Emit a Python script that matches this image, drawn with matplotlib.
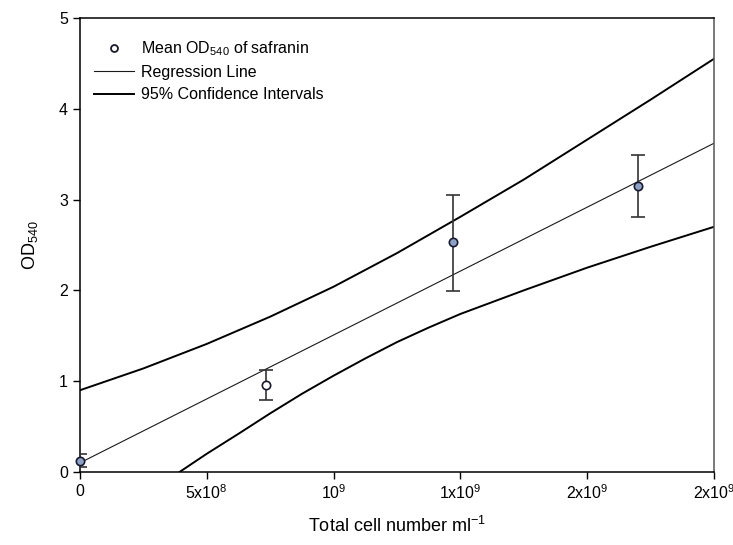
import numpy as np
import matplotlib
matplotlib.use("Agg")
import matplotlib.pyplot as plt
from matplotlib.lines import Line2D

plt.rcParams["font.family"] = ["Liberation Sans", "DejaVu Sans"]

# mean OD540 of safranin vs total cell number
cells = [0.0, 7.35e8, 1.47e9, 2.20e9]
od_mean = [0.12, 0.96, 2.53, 3.15]
od_err_lo = [0.07, 0.17, 0.54, 0.34]
od_err_hi = [0.08, 0.16, 0.52, 0.34]
face_cols = ["#8ea2c6", "white", "#8ea2c6", "#8ea2c6"]

# regression line (end points)
reg_x = [0.0, 2.5e9]
reg_y = [0.10, 3.62]

# 95% confidence band
ci_up_x = [0.0, 2.5e8, 5e8, 7.5e8, 1e9, 1.25e9, 1.5e9, 1.75e9, 2e9, 2.25e9, 2.5e9]
ci_up_y = [0.90, 1.14, 1.41, 1.71, 2.04, 2.41, 2.81, 3.22, 3.66, 4.10, 4.55]
ci_lo_x = [3.93e8, 5e8, 6.25e8, 7.5e8, 8.75e8, 1e9, 1.125e9, 1.25e9,
           1.375e9, 1.5e9, 1.75e9, 2e9, 2.25e9, 2.5e9]
ci_lo_y = [0.0, 0.20, 0.42, 0.645, 0.86, 1.06, 1.25, 1.43,
           1.59, 1.74, 2.00, 2.25, 2.48, 2.70]

xticks = [0, 5e8, 1e9, 1.5e9, 2e9, 2.5e9]
xtick_labels = ["0", r"5x10$^\mathregular{8}$", r"10$^\mathregular{9}$",
                r"1x10$^\mathregular{9}$", r"2x10$^\mathregular{9}$",
                r"2x10$^\mathregular{9}$"]

fig = plt.figure(figsize=(7.33, 5.45), dpi=100)
ax = fig.add_axes([0.109, 0.134, 0.865, 0.833])

ax.plot(reg_x, reg_y, color="#1a1a1a", lw=0.8)
ax.plot(ci_up_x, ci_up_y, color="black", lw=1.4)
ax.plot(ci_lo_x, ci_lo_y, color="black", lw=1.4)

ax.errorbar(cells, od_mean, yerr=[od_err_lo, od_err_hi], fmt="none",
            ecolor="#333333", elinewidth=1.2, capsize=5, capthick=1.2, zorder=3)
for xv, yv, fc in zip(cells, od_mean, face_cols):
    ax.plot(xv, yv, "o", ms=6, mfc=fc, mec="#1a1a2e", mew=1.2, zorder=4, clip_on=False)

ax.set_xlim(0, 2.5e9)
ax.set_ylim(0, 5)
ax.set_xticks(xticks)
ax.set_xticklabels(xtick_labels)
ax.set_yticks([0, 1, 2, 3, 4, 5])
ax.tick_params(direction="out", length=5, width=1, labelsize=11.5, colors="black")
for s in ax.spines.values():
    s.set_linewidth(1.1)
ax.spines["right"].set_color("#555555")

ax.set_xlabel(r"Total cell number ml$^\mathregular{-1}$", fontsize=13, labelpad=10)
ax.set_ylabel(r"OD$_\mathregular{540}$", fontsize=13, labelpad=14)

handles = [
    Line2D([], [], ls="none", marker="o", ms=5, mfc="white", mec="#1a1a2e", mew=1.3),
    Line2D([], [], color="#1a1a1a", lw=0.8),
    Line2D([], [], color="black", lw=1.4),
]
labels = [r"Mean OD$_\mathregular{540}$ of safranin", "Regression Line",
          "95% Confidence Intervals"]
ax.legend(handles, labels, loc="upper left", frameon=False, fontsize=11.5,
          handlelength=2.5, handletextpad=0.45, labelspacing=0.45,
          bbox_to_anchor=(0.0, 0.985))

fig.savefig("out.png", dpi=100)
